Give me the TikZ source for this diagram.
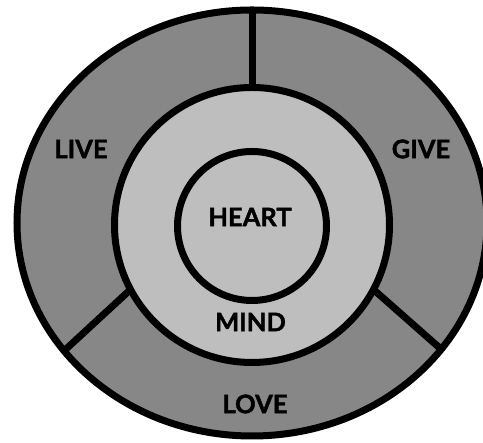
\documentclass[tikz,border=0pt]{standalone}
\usepackage{fontspec}
\setmainfont{Lato}[BoldFeatures={FakeBold=1.6}]
\usetikzlibrary{shapes.geometric}
\definecolor{ringdark}{HTML}{878787}
\definecolor{ringlight}{HTML}{BEBEBE}
\begin{document}
\begin{tikzpicture}[x=1pt,y=1pt,
  ringline/.style={line width=7pt,draw=black},
  lbl/.style={font=\fontsize{25.5}{25.5}\selectfont\bfseries,inner sep=0pt,anchor=center}]
\useasboundingbox (0,0) rectangle (483,443);
% outer ellipse fill
\node[ellipse,fill=ringdark,minimum width=470pt,minimum height=426pt,inner sep=0pt] (outer) at (252,220) {};
\coordinate (llo) at (65,93);
\coordinate (lro) at (442,93);
\node[circle,minimum size=275pt,inner sep=0pt] (midg) at (252,218) {};
% dividers
\draw[ringline] (midg.north) -- (outer.north);
\draw[ringline] (midg.208) -- (llo);
\draw[ringline] (midg.332.5) -- (lro);
% outer stroke
\node[ellipse,ringline,minimum width=470pt,minimum height=426pt,inner sep=0pt] (outerline) at (252,220) {};
% middle ring
\node[circle,ringline,fill=ringlight,minimum size=275pt,inner sep=0pt] (mid) at (252,218) {};
% inner circle
\node[circle,ringline,fill=ringlight,minimum size=149pt,inner sep=0pt] (heart) at (252,217) {};
% labels
\node[lbl] (live) at (81,294) {LIVE};
\node[lbl] (give) at (421,294) {GIVE};
\node[lbl] (heartl) at (250,226) {HEART};
\node[lbl] (mind) at (250.5,121) {MIND};
\node[lbl] (love) at (255,39) {LOVE};
\end{tikzpicture}
\end{document}
